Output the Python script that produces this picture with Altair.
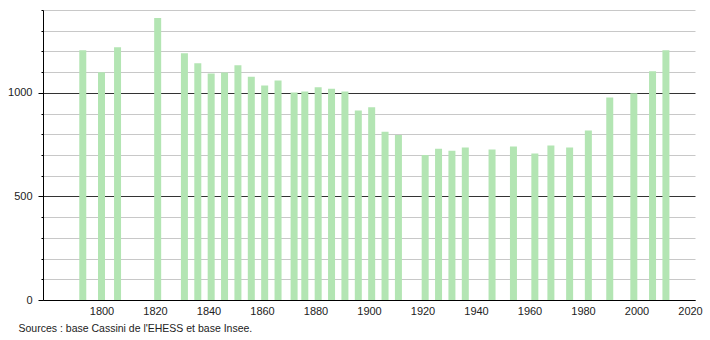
import altair as alt
import pandas as pd

years = [1793, 1800, 1806, 1821, 1831, 1836, 1841, 1846, 1851, 1856, 1861, 1866,
         1872, 1876, 1881, 1886, 1891, 1896, 1901, 1906, 1911, 1921, 1926, 1931,
         1936, 1946, 1954, 1962, 1968, 1975, 1982, 1990, 1999, 2006, 2011]
population = [1206, 1099, 1220, 1361, 1191, 1143, 1094, 1098, 1133, 1078, 1036, 1060,
              1002, 1006, 1027, 1020, 1006, 915, 930, 812, 797, 700, 730, 720,
              736, 726, 741, 707, 746, 736, 818, 978, 998, 1104, 1206]

x_ticks = list(range(1800, 2021, 20))
y_ticks = list(range(0, 1401, 100))
source_text = "Sources : base Cassini de l'EHESS et base Insee."

df = pd.DataFrame({"year": years, "pop": population})

font = "Liberation Sans"

chart = alt.Chart(df).mark_bar(size=7, color="#b3e5b3").encode(
    x=alt.X("year:Q", scale=alt.Scale(domain=[1780, 2020], nice=False, zero=False),
            axis=alt.Axis(values=x_ticks, format="d", title=None, ticks=False,
                          grid=False, domainColor="#000", labelPadding=5,
                          labelFont=font, labelFontSize=11, labelColor="#222",
                          labelFlush=False)),
    y=alt.Y("pop:Q", scale=alt.Scale(domain=[0, 1400], nice=False),
            axis=alt.Axis(values=y_ticks, title=None, domainColor="#000",
                          labelExpr="datum.value % 500 === 0 ? datum.label : ''",
                          format="d",
                          tickColor="#000",
                          tickSize={"condition": {"test": "datum.value % 500 === 0", "value": 5}, "value": 2},
                          gridColor={"condition": {"test": "datum.value % 500 === 0", "value": "#333333"}, "value": "#c8c8c8"},
                          gridOpacity=1,
                          labelPadding=6,
                          labelFont=font, labelFontSize=11, labelColor="#222")),
).properties(
    width=652, height=290,
    autosize=alt.AutoSizeParams(type="none"),
    padding={"left": 43, "top": 10, "right": 15, "bottom": 40},
    title=alt.TitleParams(source_text, orient="bottom", anchor="start",
                          frame="bounds", dx=11,
                          offset=8, font=font, fontSize=10.5, fontWeight="normal",
                          color="#222"),
).configure_view(stroke=None)

chart.save("out.html", embed_options={"renderer": "svg", "actions": False})
